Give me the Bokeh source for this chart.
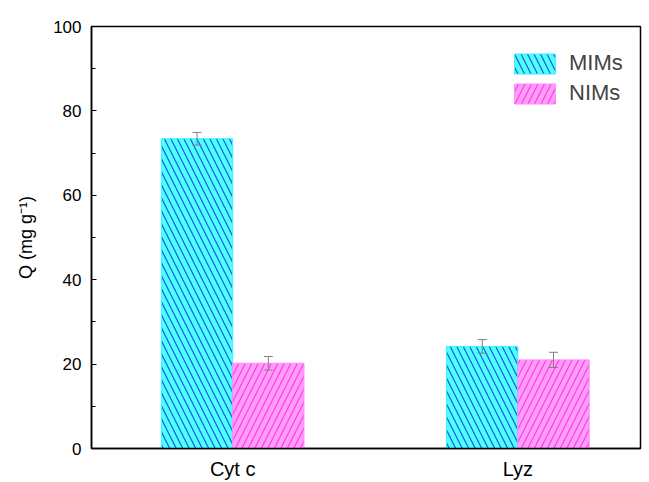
from bokeh.plotting import figure
from bokeh.models import (ColumnDataSource, Whisker, TeeHead, Legend, LegendItem,
                          SingleIntervalTicker, FixedTicker, Range1d)
from bokeh.embed import file_html
from bokeh.resources import INLINE

categories = ["Cyt c", "Lyz"]
mims = [73.4, 24.2]
mims_err = [1.5, 1.6]
nims = [20.2, 21.0]
nims_err = [1.6, 1.8]

pos = [i + 1 for i in range(len(categories))]
bw = 0.25

src_m = ColumnDataSource(dict(x=[p_ - bw / 2 for p_ in pos], top=mims,
                              upper=[v + e for v, e in zip(mims, mims_err)],
                              lower=[v - e for v, e in zip(mims, mims_err)]))
src_n = ColumnDataSource(dict(x=[p_ + bw / 2 for p_ in pos], top=nims,
                              upper=[v + e for v, e in zip(nims, nims_err)],
                              lower=[v - e for v, e in zip(nims, nims_err)]))

p = figure(output_backend="svg", toolbar_location=None,
           frame_width=549, frame_height=422,
           min_border_left=91, min_border_top=26, min_border_right=9, min_border_bottom=34,
           x_range=Range1d(0.505, 2.43), y_range=Range1d(0, 100))
p.background_fill_color = "white"
p.border_fill_color = "white"
p.xgrid.visible = False
p.ygrid.visible = False
p.outline_line_color = "black"
p.outline_line_width = 1.5

r_m = p.vbar(x="x", top="top", width=bw, source=src_m,
             fill_color="#4dffff", line_color="#33f5ff", line_width=1,
             hatch_pattern="\\", hatch_color="#1f55e0", hatch_scale=13, hatch_weight=1.2)
r_n = p.vbar(x="x", top="top", width=bw, source=src_n,
             fill_color="#ff9cff", line_color="#ff88ff", line_width=1,
             hatch_pattern="/", hatch_color="#ff3fd0", hatch_scale=13, hatch_weight=1.2)

for src in (src_m, src_n):
    w = Whisker(base="x", upper="upper", lower="lower", source=src, level="annotation",
                line_color="#808080", line_width=1,
                upper_head=TeeHead(size=9, line_color="#808080", line_width=1),
                lower_head=TeeHead(size=9, line_color="#808080", line_width=1))
    p.add_layout(w)

legend = Legend(items=[LegendItem(label="MIMs", renderers=[r_m]),
                       LegendItem(label="NIMs", renderers=[r_n])],
                location=(418, 342), padding=0, margin=0, spacing=4,
                glyph_width=51, glyph_height=25, label_standoff=9,
                label_text_font="Liberation Sans", label_text_font_size="22px",
                border_line_color=None, background_fill_alpha=0)
p.add_layout(legend)

p.yaxis.ticker = SingleIntervalTicker(interval=20, num_minor_ticks=2)
p.yaxis.axis_label = "Q (mg g\u207b\u00b9)"
p.yaxis.axis_label_text_font = "Liberation Sans"
p.yaxis.axis_label_text_font_style = "normal"
p.yaxis.axis_label_text_font_size = "18px"
p.yaxis.axis_label_standoff = 14
p.yaxis.major_label_standoff = 10
p.yaxis.major_tick_in = 5
p.yaxis.major_tick_out = 0
p.yaxis.minor_tick_in = 4
p.yaxis.minor_tick_out = 0

p.xaxis.ticker = FixedTicker(ticks=pos)
p.xaxis.major_label_overrides = {pp: c for pp, c in zip(pos, categories)}
p.xaxis.major_tick_in = 0
p.xaxis.major_tick_out = 0
p.xaxis.minor_tick_in = 0
p.xaxis.minor_tick_out = 0
p.xaxis.major_label_standoff = 9

for ax in (p.xaxis, p.yaxis):
    ax.axis_line_color = "black"
    ax.axis_line_width = 1.5
    ax.major_tick_line_color = "black"
    ax.minor_tick_line_color = "black"
    ax.major_label_text_font = "Liberation Sans"
    ax.major_label_text_color = "black"
    ax.axis_label_text_color = "black"
p.yaxis.major_label_text_font_size = "17px"
p.xaxis.major_label_text_font_size = "20px"

open("out.html", "w").write(file_html(p, INLINE))
